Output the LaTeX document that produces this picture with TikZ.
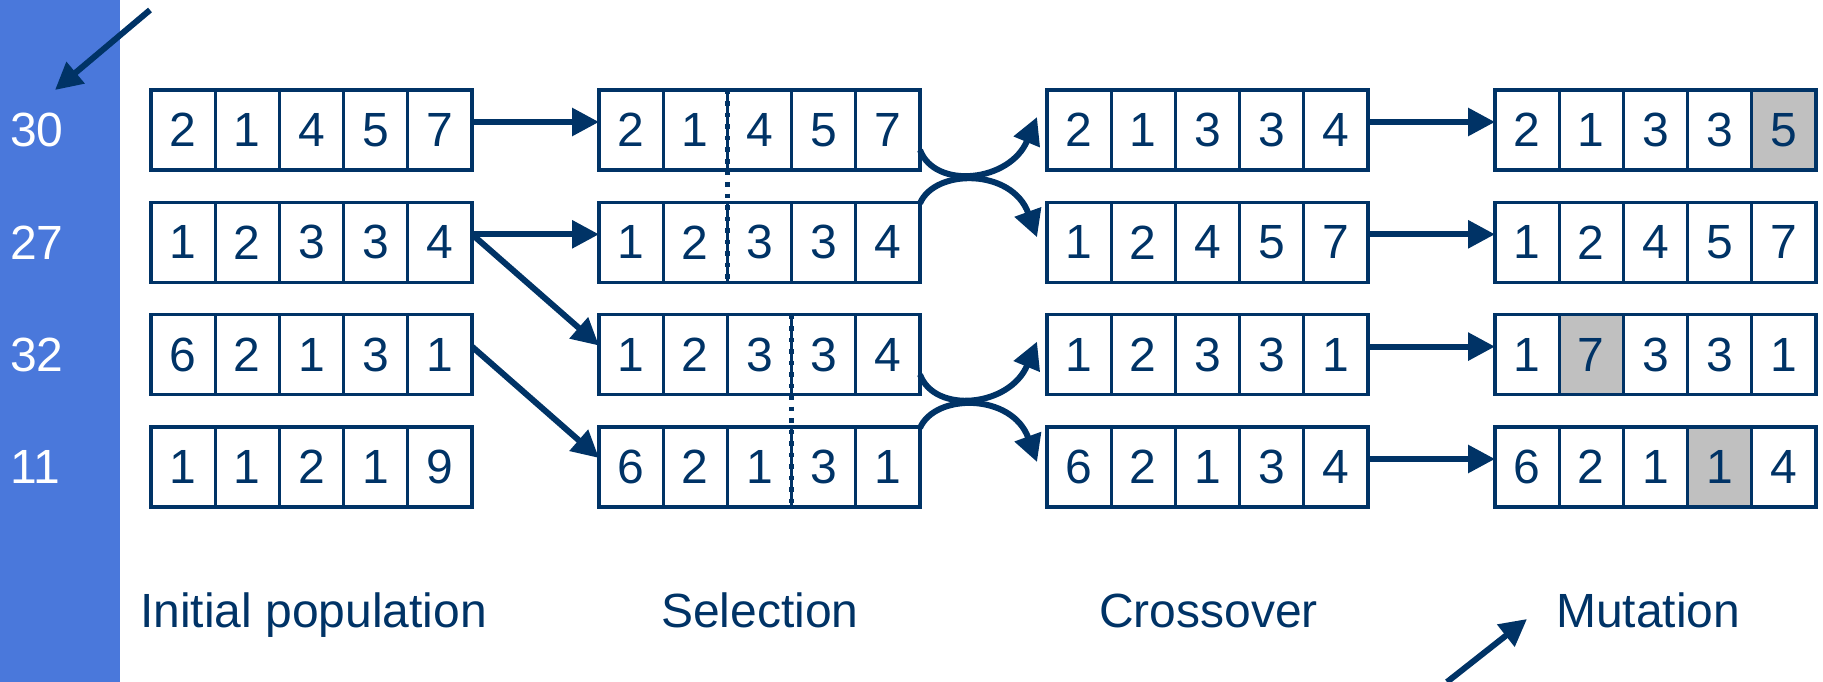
\documentclass[tikz,border=0pt]{standalone}
\usepackage{fontspec}
\setmainfont{Liberation Sans}
\usetikzlibrary{arrows.meta,calc}
\definecolor{navy}{HTML}{003366}
\definecolor{barblue}{HTML}{4A78DB}
\definecolor{mutgray}{HTML}{C0C0C0}
\newcommand\chromrow[5]{%
  \foreach \d [count=\k] in {#4} {%
    \ifnum\k=#5\relax
      \node[cell,fill=mutgray] (#1-\k) at ({#2+64.2*(\k-0.5)},{#3+40}) {\d};
    \else
      \node[cell] (#1-\k) at ({#2+64.2*(\k-0.5)},{#3+40}) {\d};
    \fi
  }}
\begin{document}
\begin{tikzpicture}[x=1pt,y=-1pt,
  cell/.style={draw=navy,line width=3.2pt,minimum width=64.2pt,minimum height=80pt,
    inner sep=0pt,outer sep=0pt,text=navy,font=\fontsize{48}{54}\selectfont},
  conn/.style={draw=navy,line width=6pt,-{Triangle[length=27pt,width=27pt]}},
  lbl/.style={text=navy,font=\fontsize{48}{54}\selectfont,inner sep=0pt,anchor=base west},
  fitness/.style={text=white,font=\fontsize{48}{54}\selectfont,inner sep=0pt,anchor=west},
  cut/.style={draw=navy,line width=5pt,dash pattern=on 4.5pt off 7pt}]
\useasboundingbox (0,0) rectangle (1823,682);
\fill[barblue] (0,0) rectangle (120,682);
% fitness values
\node[fitness] (f1) at (10,130) {30};
\node[fitness] (f2) at (10,242.3) {27};
\node[fitness] (f3) at (10,354.6) {32};
\node[fitness] (f4) at (10,467) {11};
% initial population
\chromrow{I-1}{151}{90}{2,1,4,5,7}{0}
\chromrow{I-2}{151}{202.3}{1,2,3,3,4}{0}
\chromrow{I-3}{151}{314.6}{6,2,1,3,1}{0}
\chromrow{I-4}{151}{427}{1,1,2,1,9}{0}
% selection
\chromrow{S-1}{599}{90}{2,1,4,5,7}{0}
\chromrow{S-2}{599}{202.3}{1,2,3,3,4}{0}
\chromrow{S-3}{599}{314.6}{1,2,3,3,4}{0}
\chromrow{S-4}{599}{427}{6,2,1,3,1}{0}
% crossover
\chromrow{C-1}{1047}{90}{2,1,3,3,4}{0}
\chromrow{C-2}{1047}{202.3}{1,2,4,5,7}{0}
\chromrow{C-3}{1047}{314.6}{1,2,3,3,1}{0}
\chromrow{C-4}{1047}{427}{6,2,1,3,4}{0}
% mutation
\chromrow{M-1}{1495}{90}{2,1,3,3,5}{5}
\chromrow{M-2}{1495}{202.3}{1,2,4,5,7}{0}
\chromrow{M-3}{1495}{314.6}{1,7,3,3,1}{2}
\chromrow{M-4}{1495}{427}{6,2,1,1,4}{4}
% crossover points
\draw[cut] (S-1-2.north east) -- (S-2-2.south east);
\draw[cut] (S-3-3.north east) -- (S-4-3.south east);
% selection arrows
\draw[conn] ($(I-1-5.east)+(0,-8)$) -- ($(S-1-1.west)+(0,-8)$);
\draw[conn] ($(I-2-5.east)+(0,-8)$) -- ($(S-2-1.west)+(0,-8)$);
\draw[conn] ($(I-2-5.east)+(0,-8)$) -- ($(S-3-1.west)+(0,-9)$);
\draw[conn] ($(I-3-5.east)+(0,-8)$) -- ($(S-4-1.west)+(0,-9)$);
% crossover arrows
\foreach \a/\b in {1/2,3/4}{
  \draw[conn] ($(S-\a-5.east)+(0,20)$) .. controls +(15,40) and +(-27,65) .. ($(C-\a-1.west)+(-10,-13)$);
  \draw[conn] ($(S-\b-5.east)+(0,-39)$) .. controls +(15,-35) and +(-25,-69) .. ($(C-\b-1.west)+(-10,-5)$);
}
% mutation arrows
\foreach \r in {1,2,3,4}{
  \draw[conn] ($(C-\r-5.east)+(0,-8)$) -- ($(M-\r-1.west)+(0,-8)$);
}
% labels
\node[lbl] (l1) at (140,627) {Initial population};
\node[lbl] (l2) at (661,627) {Selection};
\node[lbl] (l3) at (1099,627) {Crossover};
\node[lbl] (l4) at (1556,627) {Mutation};
% pointer arrows
\coordinate (p1s) at (150,10);
\coordinate (p1e) at (55,90);
\draw[conn] (p1s) -- (p1e);
\coordinate (p2s) at (1447,682);
\coordinate (p2e) at (1527,619);
\draw[conn] (p2s) -- (p2e);
\end{tikzpicture}
\end{document}
